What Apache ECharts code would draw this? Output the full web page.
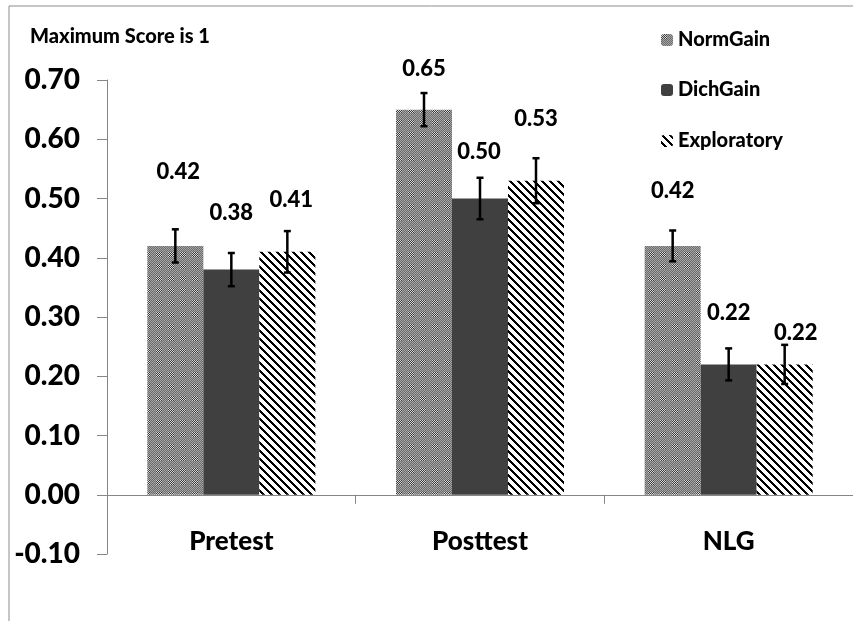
<!DOCTYPE html>
<html>
<head>
<meta charset="utf-8">
<script src="https://cdn.jsdelivr.net/npm/echarts@6/dist/echarts.min.js"></script>
<style>
  html, body { margin: 0; padding: 0; background: #fff; }
  #chart { width: 853px; height: 621px; }
</style>
</head>
<body>
<div id="chart"></div>
<script>
// data
var categories = ['Pretest', 'Posttest', 'NLG'];
var normGain = [0.42, 0.65, 0.42];
var dichGain = [0.38, 0.50, 0.22];
var exploratory = [0.41, 0.53, 0.22];
var normErr = [0.028, 0.028, 0.026];
var dichErr = [0.028, 0.035, 0.027];
var explErr = [0.035, 0.038, 0.033];

// label placement (hand placed in the original)
var labelLift = [[74, 41, 55], [57, 47, 51], [52, 62, 31]];
var labelShift = [[3, 0, 0], [0, -1, 0], [4, 0, 11]];

var FONT = 'Lato';
var WEIGHT = 900;
var BAR_W = 56;

function checkerPattern() {
  var c = document.createElement('canvas');
  c.width = 12; c.height = 12;
  var g = c.getContext('2d');
  for (var y = 0; y < 12; y++) {
    for (var x = 0; x < 12; x++) {
      var odd = (x + y) % 2;
      var inBlock = x < 6 && y < 5;
      if (inBlock) g.fillStyle = odd ? '#3a3a3a' : '#d8d8d8';
      else g.fillStyle = odd ? '#6c6c6c' : '#a4a4a4';
      g.fillRect(x, y, 1, 1);
    }
  }
  return c;
}

function stripePattern() {
  var c = document.createElement('canvas');
  c.width = 8; c.height = 8;
  var g = c.getContext('2d');
  for (var y = 0; y < 8; y++) {
    for (var x = 0; x < 8; x++) {
      var k = ((x - y) % 8 + 8) % 8;
      g.fillStyle = k < 3 ? '#000' : '#fff';
      g.fillRect(x, y, 1, 1);
    }
  }
  return c;
}

var normColor = {image: checkerPattern(), repeat: 'repeat'};
var explColor = {image: stripePattern(), repeat: 'repeat'};
var dichColor = '#404040';

function barSeries(name, values, slot, color) {
  return {
    name: name,
    type: 'bar',
    barWidth: BAR_W,
    barGap: '0%',
    itemStyle: {color: color},
    emphasis: {disabled: true},
    label: {
      show: true,
      position: 'top',
      color: '#000',
      fontFamily: FONT,
      fontWeight: WEIGHT,
      fontSize: 22,
      formatter: function (p) { return p.value.toFixed(2); }
    },
    data: values.map(function (v, i) {
      return {
        value: v,
        label: {distance: labelLift[slot][i] - 11, offset: [labelShift[slot][i], 0]}
      };
    })
  };
}

function errorSeries(values, errs, slot) {
  return {
    type: 'custom',
    silent: true,
    z: 10,
    encode: {x: 0, y: 1},
    data: values.map(function (v, i) { return [i, v, errs[i]]; }),
    renderItem: function (params, api) {
      var i = api.value(0), v = api.value(1), e = api.value(2);
      var hi = api.coord([i, v + e]);
      var lo = api.coord([i, v - e]);
      var x = hi[0] + (slot - 1) * BAR_W;
      var st = {stroke: '#000', lineWidth: 2.5};
      return {
        type: 'group',
        children: [
          {type: 'line', shape: {x1: x, y1: hi[1], x2: x, y2: lo[1]}, style: st},
          {type: 'line', shape: {x1: x - 3.5, y1: hi[1], x2: x + 3.5, y2: hi[1]}, style: st},
          {type: 'line', shape: {x1: x - 3.5, y1: lo[1], x2: x + 3.5, y2: lo[1]}, style: st}
        ]
      };
    }
  };
}

function legendAt(name, top) {
  return {
    data: [name],
    left: 656,
    top: top,
    itemWidth: 12,
    itemHeight: 12,
    itemGap: 0,
    selectedMode: false,
    textStyle: {color: '#000', fontFamily: FONT, fontWeight: WEIGHT, fontSize: 20, lineHeight: 20}
  };
}

var chart = echarts.init(document.getElementById('chart'));
chart.setOption({
  animation: false,
  backgroundColor: '#fff',
  graphic: [
    {
      type: 'rect',
      shape: {x: 9, y: 6, width: 900, height: 700},
      style: {fill: 'none', stroke: '#8c8c8c', lineWidth: 1}
    },
    {
      type: 'text',
      left: 30,
      top: 27,
      style: {
        text: 'Maximum Score is 1', fill: '#000',
        fontFamily: FONT, fontWeight: WEIGHT, fontSize: 20
      }
    }
  ],
  legend: [
    legendAt('NormGain', 25),
    legendAt('DichGain', 75),
    legendAt('Exploratory', 126)
  ],
  grid: {left: 107, top: 80, width: 759, height: 474, containLabel: false},
  xAxis: {
    type: 'category',
    data: categories,
    axisLine: {lineStyle: {color: '#868686', width: 1}},
    axisTick: {show: true, length: 9, lineStyle: {color: '#868686'}},
    axisLabel: {margin: -25, color: '#000', fontFamily: FONT, fontWeight: WEIGHT, fontSize: 26},
    splitLine: {show: false}
  },
  yAxis: {
    type: 'value',
    min: -0.1,
    max: 0.7,
    interval: 0.1,
    axisLine: {show: true, lineStyle: {color: '#868686', width: 1}},
    axisTick: {show: true, length: 10, lineStyle: {color: '#868686'}},
    axisLabel: {
      margin: 27,
      color: '#000',
      fontFamily: FONT,
      fontWeight: WEIGHT,
      fontSize: 28,
      formatter: function (v) { return v.toFixed(2); }
    },
    splitLine: {show: false}
  },
  series: [
    barSeries('NormGain', normGain, 0, normColor),
    barSeries('DichGain', dichGain, 1, dichColor),
    barSeries('Exploratory', exploratory, 2, explColor),
    errorSeries(normGain, normErr, 0),
    errorSeries(dichGain, dichErr, 1),
    errorSeries(exploratory, explErr, 2)
  ]
});
</script>
</body>
</html>
